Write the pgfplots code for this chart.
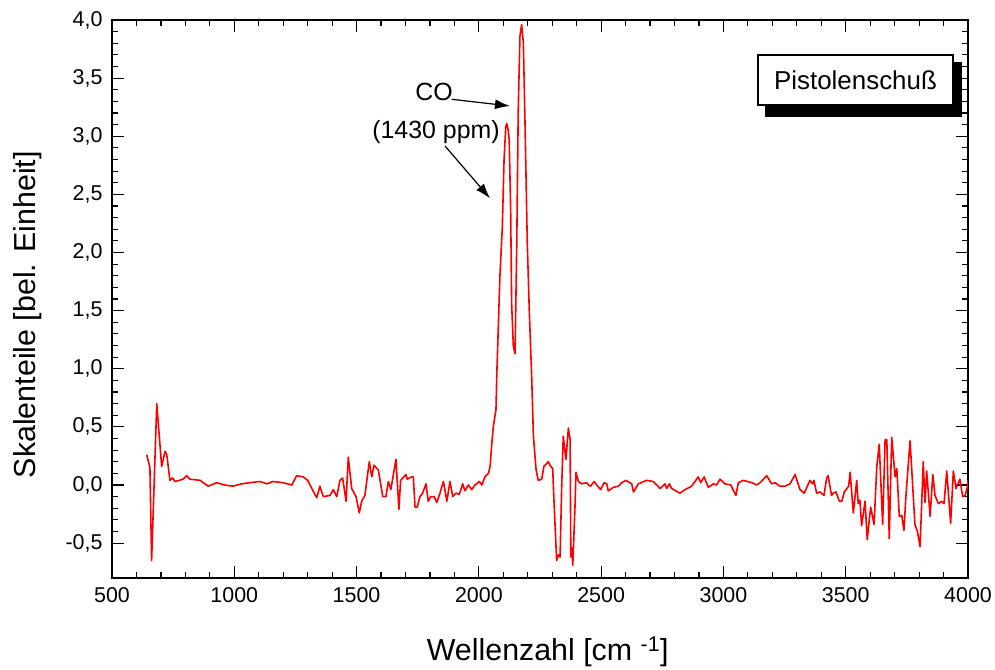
\documentclass[border=0pt]{standalone}
\usepackage{fontspec}
\setmainfont{Liberation Sans}
\usepackage{pgfplots}
\pgfplotsset{compat=1.18}
\usetikzlibrary{arrows.meta}
\begin{document}
\begin{tikzpicture}[x=1bp,y=1bp]
\useasboundingbox (-112,-92) rectangle (883,578);
\begin{axis}[
  at={(0,0)}, anchor=south west,
  scale only axis, width=856bp, height=558bp,
  xmin=500, xmax=4000, ymin=-0.8, ymax=4.0,
  xtick={500,1000,1500,2000,2500,3000,3500,4000},
  ytick={-0.5,0,0.5,1,1.5,2,2.5,3,3.5,4},
  minor x tick num=4, minor y tick num=4,
  tick align=inside,
  major tick length=12bp, minor tick length=6bp,
  axis line style={line width=1.5bp},
  every tick/.style={black, line width=1.2bp},
  /pgf/number format/assume math mode=true,
  tick label style={font=\fontsize{21.5}{25}\selectfont},
  xticklabel style={yshift=-6bp, /pgf/number format/1000 sep={}},
  yticklabel style={xshift=-6bp, /pgf/number format/fixed, /pgf/number format/fixed zerofill, /pgf/number format/precision=1, /pgf/number format/use comma},
  xlabel={Wellenzahl [cm \textsuperscript{-1}]},
  ylabel={Skalenteile [bel. Einheit]},
  every axis x label/.style={at={(axis description cs:0.509,0)}, yshift=-74bp, anchor=center, font=\fontsize{30.5}{36}\selectfont},
  every axis y label/.style={at={(axis description cs:0,0.472)}, xshift=-84bp, rotate=90, anchor=center, font=\fontsize{30.5}{36}\selectfont},
]
\addplot[red, line width=1.6bp, line join=round] coordinates {
(642,0.26) (655,0.15) (662,-0.65) (683,0.70) (703,0.16) (717,0.29) (724,0.26)
(737,0.04) (748,0.06) (758,0.03) (775,0.04) (790,0.05) (805,0.08) (819,0.05)
(860,0.04) (893,-0.01) (928,0.02) (960,0.0) (995,-0.01) (1030,0.01) (1064,0.02)
(1105,0.03) (1133,0.01) (1158,0.03) (1199,0.02) (1235,0.0) (1255,0.08) (1282,0.07)
(1300,0.04) (1317,-0.03) (1337,-0.11) (1350,-0.01) (1364,-0.10) (1391,-0.09)
(1405,-0.04) (1419,-0.10) (1432,0.04) (1443,0.06) (1457,-0.14) (1466,0.24)
(1480,-0.03) (1498,-0.10) (1511,-0.24) (1521,-0.14) (1534,-0.09) (1552,0.20)
(1562,0.07) (1571,0.17) (1589,0.13) (1607,-0.10) (1620,-0.10) (1630,0.03)
(1640,-0.04) (1661,0.22) (1673,-0.21) (1680,0.04) (1702,0.09) (1707,0.05)
(1725,0.07) (1732,0.07) (1739,-0.19) (1748,-0.19) (1759,-0.10) (1770,-0.07)
(1784,0.01) (1793,-0.14) (1803,-0.10) (1817,-0.10) (1828,-0.15) (1841,-0.07)
(1855,0.03) (1862,-0.05) (1869,-0.14) (1882,0.03) (1893,-0.10) (1907,-0.07)
(1920,-0.08) (1934,0.01) (1943,-0.05) (1957,0.00) (1971,-0.04) (1984,0.00)
(2002,0.03) (2012,0.00) (2025,0.07) (2039,0.10) (2046,0.16) (2053,0.36)
(2059,0.50) (2070,0.65) (2073,0.93) (2086,1.79) (2096,2.22) (2103,2.80)
(2110,3.08) (2114,3.11) (2120,3.05) (2124,2.97) (2130,2.37) (2134,1.56) (2141,1.19) (2148,1.13)
(2155,2.08) (2161,3.23) (2168,3.86) (2175,3.96) (2182,3.80) (2189,3.08)
(2198,2.08) (2206,1.51) (2216,0.93) (2223,0.42) (2234,0.13) (2243,0.04)
(2257,0.05) (2266,0.16) (2284,0.20) (2291,0.17) (2302,0.14) (2307,-0.13)
(2318,-0.65) (2325,-0.60) (2332,-0.62) (2339,0.01) (2345,0.42) (2356,0.22)
(2366,0.49) (2373,0.39) (2376,-0.62) (2380,-0.54) (2384,-0.69) (2393,-0.19)
(2397,0.11) (2407,0.03) (2420,0.01) (2441,0.02) (2448,0.0) (2457,-0.01)
(2471,0.03) (2482,0.0) (2498,-0.04) (2512,0.02) (2523,0.01) (2529,-0.05)
(2550,-0.02) (2570,-0.01) (2584,0.02) (2602,0.04) (2625,0.01) (2632,-0.06)
(2652,0.01) (2686,0.04) (2713,0.03) (2741,-0.03) (2761,0.01) (2768,-0.03)
(2779,0.01) (2788,-0.03) (2822,-0.07) (2843,-0.04) (2870,-0.01) (2897,0.07)
(2907,0.02) (2921,0.07) (2938,-0.02) (2959,0.01) (2972,0.0) (2986,0.05)
(3006,0.01) (3030,0.0) (3051,-0.09) (3061,0.02) (3081,0.04) (3116,0.02)
(3136,0.0) (3150,0.02) (3177,0.08) (3197,0.01) (3211,0.02) (3231,-0.01)
(3252,-0.01) (3272,0.01) (3293,0.09) (3313,-0.04) (3330,-0.07) (3354,0.04)
(3365,0.01) (3370,0.04) (3381,-0.07) (3395,-0.06) (3411,-0.09) (3422,0.06)
(3428,0.08) (3442,-0.09) (3449,-0.07) (3460,-0.06) (3474,-0.14) (3484,-0.14)
(3494,-0.06) (3512,-0.01) (3518,0.11) (3531,-0.24) (3545,0.04) (3551,-0.16)
(3558,-0.13) (3565,-0.35) (3579,-0.14) (3588,-0.47) (3602,-0.19) (3616,-0.34)
(3627,0.16) (3637,0.35) (3651,-0.34) (3661,0.39) (3668,0.39) (3678,-0.46)
(3688,0.41) (3702,0.07) (3709,0.14) (3719,-0.27) (3729,-0.26) (3738,-0.39)
(3746,-0.10) (3763,0.38) (3783,-0.34) (3793,-0.40) (3804,-0.53) (3817,0.20)
(3824,-0.15) (3831,0.12) (3845,-0.27) (3856,0.09) (3865,-0.09) (3879,-0.16)
(3892,-0.14) (3902,-0.16) (3913,0.12) (3929,-0.33) (3940,0.12) (3951,-0.03)
(3967,0.05) (3978,-0.10) (3988,-0.09) (3997,-0.02) (4000,0.04)
};
\end{axis}
% annotations
\node[font=\fontsize{25}{29}\selectfont] at (322,486) {CO};
\node[font=\fontsize{25}{29}\selectfont] at (324,446) {(1430 ppm)};
\draw[line width=1.2bp, -{Latex[length=15bp,width=10bp]}] (339.7,478.7) -- (398,472);
\draw[line width=1.2bp, -{Latex[length=15bp,width=10bp]}] (333,432) -- (378,379.7);
% label box with shadow
\fill[black] (653,461) rectangle (850,516);
\draw[fill=white, line width=1.5bp] (646,473) rectangle (841,523)
  node[midway, font=\fontsize{26}{30}\selectfont] {Pistolenschuß};
\end{tikzpicture}
\end{document}
